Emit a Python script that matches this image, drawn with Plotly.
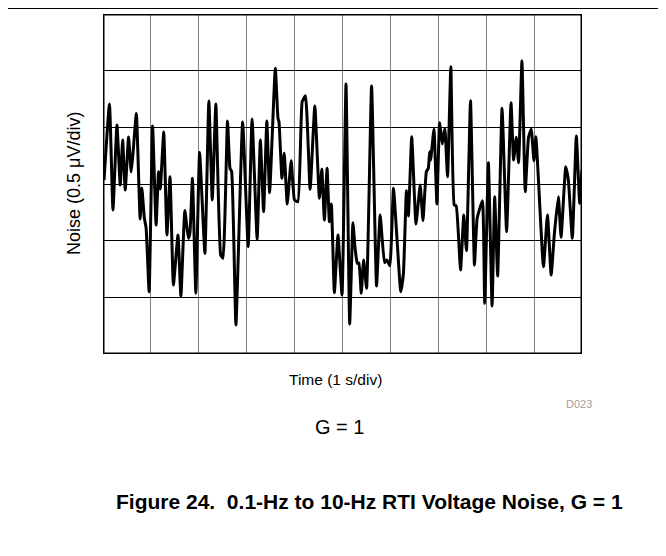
import plotly.graph_objects as go

# Time (s) and noise (µV)
time_s = [0.021, 0.135, 0.208, 0.291, 0.360, 0.410, 0.464, 0.534, 0.588, 0.624,
          0.696, 0.775, 0.811, 0.863, 0.900, 0.963, 1.035, 1.108, 1.160, 1.195,
          1.268, 1.335, 1.399, 1.470, 1.565, 1.626, 1.709, 1.782, 1.815, 1.867,
          1.938, 2.017, 2.127, 2.210, 2.281, 2.356, 2.457, 2.505, 2.599, 2.651,
          2.686, 2.775, 2.915, 3.031, 3.112, 3.218, 3.285, 3.353, 3.420, 3.478,
          3.597, 3.653, 3.674, 3.736, 3.784, 3.846, 3.929, 3.998, 4.069, 4.158,
          4.227, 4.324, 4.422, 4.518, 4.568, 4.622, 4.678, 4.726, 4.767, 4.830,
          4.906, 4.990, 5.073, 5.150, 5.218, 5.260, 5.308, 5.343, 5.391, 5.441,
          5.503, 5.607, 5.711, 5.786, 5.877, 5.925, 5.988, 6.064, 6.148, 6.216,
          6.272, 6.335, 6.376, 6.445, 6.534, 6.622, 6.680, 6.751, 6.792, 6.819,
          6.840, 6.909, 6.971, 7.027, 7.083, 7.137, 7.193, 7.262, 7.333, 7.374,
          7.464, 7.532, 7.588, 7.672, 7.755, 7.811, 7.921, 7.969, 8.046, 8.123,
          8.177, 8.239, 8.331, 8.426, 8.518, 8.572, 8.628, 8.676, 8.746, 8.815,
          8.884, 8.940, 8.996, 9.037, 9.195, 9.279, 9.356, 9.424, 9.507, 9.563,
          9.661, 9.715, 9.798, 9.882, 9.952, 10.0]

noise_uv = [0.035, 0.706, -0.229, 0.521, -0.009, 0.388, -0.053, 0.415, 0.106, 0.256,
            0.622, -0.309, -0.035, -0.300, -0.388, -0.950, 0.512, -0.362, 0.109, -0.044,
            0.459, -0.450, 0.064, -0.891, -0.450, -0.988, -0.234, -0.479, -0.432, 0.050,
            -0.964, 0.278, -0.611, 0.732, -0.141, 0.706, -0.626, -0.656, 0.556, 0.139,
            0.109, -1.244, 0.547, -0.553, 0.574, -0.490, 0.388, -0.244, 0.556, -0.077,
            1.021, 0.580, 0.550, 0.050, 0.271, -0.176, 0.206, -0.141, -0.156, 0.726,
            0.779, -0.047, 0.688, -0.126, 0.130, -0.318, 0.139, -0.333, -0.176, -0.959,
            -0.450, -0.979, 0.882, -1.235, -0.341, -0.553, -0.700, -0.697, -0.964, -0.670,
            -0.920, 0.865, -0.900, -0.274, -0.694, -0.670, -0.721, -0.038, -0.553, -0.950,
            -0.788, -0.059, -0.282, 0.417, -0.353, -0.009, -0.322, 0.109, 0.139, 0.285,
            0.212, 0.483, -0.176, 0.541, 0.353, 0.491, 0.064, 1.035, -0.185, -0.194,
            -0.759, -0.274, -0.588, 0.735, -0.715, -0.303, -0.147, -1.053, 0.188, -1.076,
            -0.112, -0.812, 0.668, -0.421, 0.717, 0.212, 0.412, 0.188, 1.088, -0.068,
            0.412, 0.483, 0.206, 0.417, -0.730, -0.274, -0.803, -0.435, -0.112, -0.470,
            0.153, 0.035, -0.479, 0.424, -0.170, 0.124]

x_range = [0, 10]
y_range = [-1.5, 1.5]

x_title = "Time (1 s/div)"
y_title = "Noise (0.5 μV/div)"
subtitle = "G = 1"
code_label = "D023"
caption = "Figure 24.\u00a0 0.1-Hz to 10-Hz RTI Voltage Noise, G = 1"

FONT = "Liberation Sans, Arial, sans-serif"

fig = go.Figure()
fig.add_trace(go.Scatter(
    x=time_s, y=noise_uv, mode="lines",
    line=dict(color="black", width=3, shape="spline", smoothing=0.4),
    hoverinfo="skip", showlegend=False, cliponaxis=True,
))

fig.update_xaxes(range=x_range, dtick=1, showticklabels=False, ticks="",
                 showgrid=True, gridcolor="#808080", gridwidth=1.3, zeroline=False,
                 showline=False)
fig.update_yaxes(range=y_range, dtick=0.5, showticklabels=False, ticks="",
                 showgrid=True, gridcolor="black", gridwidth=1, zeroline=False,
                 showline=False)

# frame centred on the plot edges
fig.add_shape(type="rect", xref="x", yref="y",
              x0=x_range[0], x1=x_range[1], y0=y_range[0], y1=y_range[1],
              line=dict(color="black", width=3), layer="above")

ann = [
    dict(text=y_title, x=-0.0605, y=0.5, textangle=-90, font=dict(size=18)),
    dict(text=x_title, x=0.4864, y=-0.074, font=dict(size=15.5)),
    dict(text=code_label, x=0.9937, y=-0.147, font=dict(size=11, color="#a0a0a0")),
    dict(text=subtitle, x=0.4927, y=-0.215, font=dict(size=20)),
    dict(text="<b>" + caption + "</b>", x=0.5574, y=-0.435, font=dict(size=21)),
]
for a in ann:
    a.update(xref="paper", yref="paper", showarrow=False, xanchor="center", yanchor="middle")
    fig.add_annotation(**a)

fig.add_shape(type="line", xref="paper", yref="paper",
              x0=-0.25, x1=1.25, y0=1.0165, y1=1.0165,
              line=dict(color="black", width=1.2))

fig.update_layout(
    width=666, height=556,
    margin=dict(l=95, r=92, t=6, b=210),
    paper_bgcolor="white", plot_bgcolor="white",
    font=dict(family=FONT, color="black"),
)

fig.write_html("out.html")
